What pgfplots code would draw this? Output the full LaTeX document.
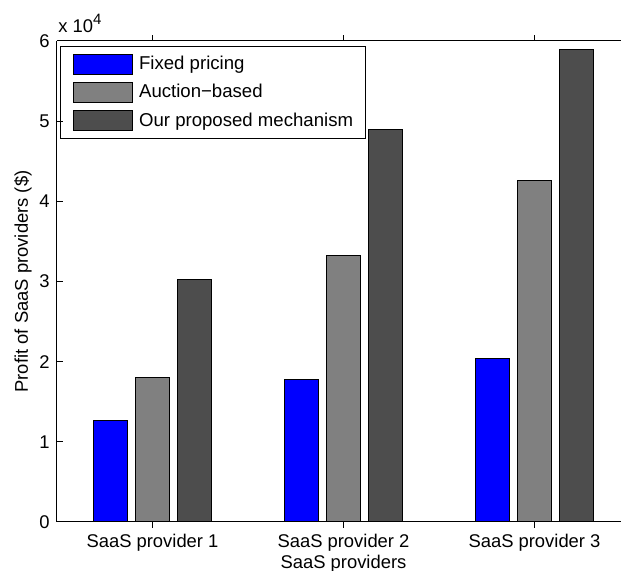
\documentclass[border=0pt]{standalone}
\usepackage{fontspec}
\setmainfont{Liberation Sans}
\usepackage{pgfplots}
\pgfplotsset{compat=1.18}

\definecolor{fixedblue}{RGB}{0,0,255}
\definecolor{auctiongray}{RGB}{128,128,128}
\definecolor{ourdark}{RGB}{77,77,77}

\newcommand{\chartfont}{\fontsize{9.2}{11}\selectfont}
\newcommand{\legendfont}{\fontsize{9.3}{11}\selectfont}

\begin{document}
\begin{tikzpicture}
% visible window of the figure (the right edge of the axes lies outside it)
\useasboundingbox (-28.5pt,-24.5pt) rectangle (282pt,261pt);
\clip (-28.5pt,-24.5pt) rectangle (282pt,261pt);
\begin{axis}[
  scale only axis,
  width=286.5pt, height=240.5pt,
  xmin=0.5, xmax=3.5,
  ymin=0, ymax=60000,
  clip=false,
  hide y axis,
  separate axis lines,
  axis line style={line width=0.5pt, -},
  tick align=inside,
  major tick length=2.8pt,
  tick style={line width=0.5pt, black},
  xtick={1,2,3},
  xticklabels={SaaS provider 1,SaaS provider 2,SaaS provider 3},
  xtick pos=both,
  xticklabel style={font=\chartfont, anchor=base, inner sep=0pt, yshift=-10pt},
  xlabel={SaaS providers},
  xlabel style={font=\chartfont, at={(axis description cs:0.5,0)}, anchor=base, inner sep=0pt, yshift=-23.5pt},
  ybar,
  bar width=0.178,
  legend image code/.code={\draw[#1, line width=0.5pt] (0pt,-5pt) rectangle (29.5pt,5pt);},
  legend style={
    at={(axis description cs:0,1)}, anchor=north west,
    xshift=1.5pt, yshift=-2.7pt,
    draw=black, line width=0.5pt, fill=white,
    font=\legendfont,
    inner xsep=6pt, inner ysep=3.5pt,
    row sep=3.6pt, column sep=3.3pt,
    nodes={inner sep=0pt},
  },
  legend cell align=left,
]
\addplot[bar shift=-0.2222, fill=fixedblue, draw=black, line width=0.5pt]
  coordinates {(1,12700) (2,17800) (3,20400)};
\addplot[bar shift=0, fill=auctiongray, draw=black, line width=0.5pt]
  coordinates {(1,18050) (2,33300) (3,42600)};
\addplot[bar shift=0.2222, fill=ourdark, draw=black, line width=0.5pt]
  coordinates {(1,30300) (2,49000) (3,59000)};
\legend{Fixed pricing, Auction\textminus based, Our proposed mechanism\hspace{3.5pt}}
\end{axis}
% left axis with its own ticks, labels and the exponent
\begin{axis}[
  scale only axis,
  width=286.5pt, height=240.5pt,
  xmin=0.5, xmax=3.5,
  ymin=0, ymax=60000,
  clip=false,
  axis x line=none,
  axis y line*=left,
  axis line style={line width=0.5pt, -},
  tick align=inside,
  major tick length=2.8pt,
  tick style={line width=0.5pt, black},
  ytick={0,10000,20000,30000,40000,50000,60000},
  yticklabels={0,1,2,3,4,5,6},
  scaled y ticks=false,
  /pgf/number format/assume math mode=true,
  yticklabel style={font=\chartfont, anchor=east, inner sep=0pt, xshift=-3.5pt},
  ylabel={Profit of SaaS providers (\$)},
  ylabel style={font=\chartfont, at={(axis description cs:0,0.5)}, anchor=base, inner sep=0pt, yshift=14.5pt},
]
\node[anchor=base west, inner sep=0pt, font=\chartfont]
  at (axis description cs:0,1) [xshift=0.5pt, yshift=4pt] {x 10\raisebox{0.45em}{\fontsize{7.5}{8}\selectfont 4}};
\end{axis}
\end{tikzpicture}
\end{document}
